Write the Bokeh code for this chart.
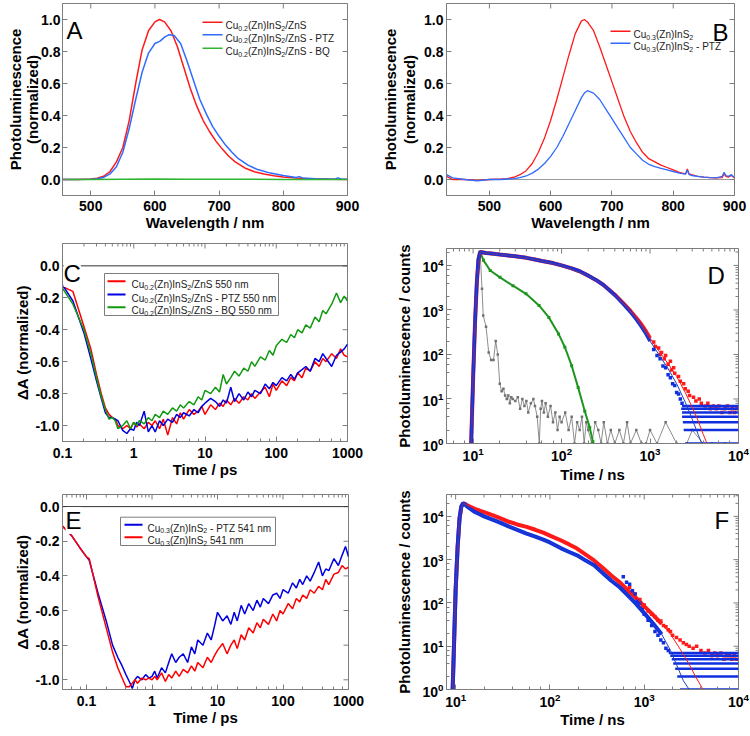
import math
import re
from bokeh.plotting import figure
from bokeh.layouts import column, row
from bokeh.models import (Range1d, Label, Span, FixedTicker, LogTicker,
                          CustomJSTickFormatter, PrintfTickFormatter)
from bokeh.embed import file_html
from bokeh.resources import INLINE

# ---------------- data ----------------
# Panel A : steady-state PL, Cu0.2(Zn)InS2/ZnS
A_wl_red = [450,480,500,510,520,530,540,550,560,570,580,590,600,607,615,625,635,645,655,665,675,685,695,705,715,725,740,755,770,785,800,820,840,860,880,900]
A_red = [0,0,0.003,0.008,0.02,0.05,0.11,0.2,0.37,0.6,0.81,0.93,0.985,1.0,0.985,0.93,0.83,0.7,0.57,0.46,0.37,0.3,0.24,0.19,0.145,0.11,0.072,0.048,0.034,0.024,0.016,0.009,0.005,0.003,0.001,0]
A_wl_blue = [450,500,510,520,530,540,550,560,570,580,590,600,608,615,622,630,640,650,660,670,680,690,700,710,720,730,745,760,780,800,820,825,830,850,880,885,890,900]
A_blue = [0,0.002,0.005,0.013,0.035,0.08,0.17,0.32,0.5,0.67,0.79,0.85,0.865,0.89,0.905,0.9,0.85,0.74,0.62,0.5,0.41,0.33,0.27,0.215,0.17,0.13,0.09,0.062,0.04,0.025,0.012,0.018,0.01,0.005,0.002,0.01,0.003,0.002]
A_wl_green = [450,500,550,600,650,700,750,800,850,900]
A_green = [0,0,0.002,0.003,0.002,0.002,0.001,0,0,0]

# Panel B : steady-state PL, Cu0.3(Zn)InS2
B_wl = [430,440,460,480,500,520,530,540,550,560,570,580,590,600,610,620,630,640,650,655,660,670,680,690,700,710,720,730,740,750,760,770,780,790,800,810,820,823,826,830,840,850,860,870,880,883,886,890,895,900]
B_red = [0.02,0.0,0.0,-0.005,0.0,0.003,0.006,0.014,0.03,0.055,0.1,0.17,0.26,0.37,0.5,0.64,0.78,0.91,0.99,1.0,0.985,0.93,0.83,0.72,0.61,0.5,0.39,0.3,0.23,0.17,0.13,0.11,0.09,0.075,0.06,0.045,0.035,0.065,0.035,0.03,0.02,0.015,0.012,0.01,0.012,0.035,0.02,0.015,0.025,0.01]
B_blue = [0.03,0.01,0.0,-0.008,0.0,0.0,0.003,0.006,0.012,0.022,0.04,0.065,0.1,0.145,0.2,0.27,0.35,0.43,0.51,0.54,0.555,0.54,0.5,0.44,0.38,0.32,0.26,0.2,0.16,0.12,0.095,0.08,0.07,0.06,0.05,0.04,0.033,0.06,0.03,0.025,0.02,0.015,0.012,0.01,0.02,0.045,0.025,0.02,0.03,0.01]

# Panel C : transient absorption at 550 nm (ps)
C_t = [0.1,0.14,0.2,0.25,0.3,0.35,0.4,0.45,0.5,0.55,0.6,0.7,0.8,0.9,1.0,1.1,1.2,1.4,1.6,1.8,2.0,2.3,2.6,3.0,3.5,4,4.5,5,6,7,8,9,10,12,14,16,18,20,23,26,30,35,40,45,50,60,70,80,90,100,120,140,160,180,200,230,260,300,350,400,450,500,600,700,800,900,1000]
C_red = [-0.13,-0.16,-0.38,-0.52,-0.68,-0.8,-0.89,-0.93,-0.95,-0.96,-1.0,-1.02,-1.0,-1.02,-0.98,-1.01,-0.99,-1.02,-0.98,-1.0,-0.97,-1.02,-0.96,-1.06,-0.95,-0.99,-0.92,-0.96,-0.9,-0.93,-0.91,-0.88,-0.93,-0.87,-0.9,-0.86,-0.88,-0.84,-0.87,-0.83,-0.86,-0.82,-0.84,-0.8,-0.83,-0.79,-0.76,-0.82,-0.74,-0.78,-0.72,-0.75,-0.7,-0.72,-0.67,-0.7,-0.64,-0.66,-0.6,-0.63,-0.58,-0.6,-0.55,-0.58,-0.52,-0.56,-0.57]
C_blue = [-0.12,-0.22,-0.42,-0.58,-0.72,-0.83,-0.92,-0.95,-0.95,-0.96,-0.97,-1.03,-1.05,-1.02,-1.03,-0.98,-1.0,-0.91,-1.04,-1.0,-1.04,-0.97,-1.0,-0.96,-0.98,-0.93,-0.95,-0.92,-0.94,-0.9,-0.92,-0.88,-0.86,-0.83,-0.85,-0.88,-0.84,-0.86,-0.76,-0.85,-0.8,-0.84,-0.79,-0.82,-0.78,-0.8,-0.74,-0.77,-0.73,-0.75,-0.7,-0.72,-0.68,-0.71,-0.67,-0.65,-0.63,-0.66,-0.58,-0.6,-0.55,-0.58,-0.63,-0.56,-0.54,-0.52,-0.49]
C_green = [-0.14,-0.24,-0.4,-0.55,-0.7,-0.82,-0.9,-0.96,-0.95,-0.97,-1.02,-1.0,-0.97,-1.02,-0.98,-1.0,-0.97,-0.99,-0.95,-0.97,-0.93,-0.95,-0.91,-0.93,-0.89,-0.91,-0.87,-0.89,-0.85,-0.87,-0.82,-0.84,-0.78,-0.8,-0.76,-0.79,-0.68,-0.74,-0.7,-0.66,-0.69,-0.64,-0.66,-0.6,-0.63,-0.57,-0.59,-0.53,-0.56,-0.5,-0.46,-0.48,-0.43,-0.45,-0.4,-0.42,-0.37,-0.39,-0.32,-0.35,-0.28,-0.3,-0.24,-0.17,-0.23,-0.19,-0.22]

# Panel D : PL decays (ns), counts
D_t = [9.5,10,10.5,11,11.5,12,13,14,16,18,20,25,30,40,50,60,80,100,130,160,200,250,300,400,500,600,700,800,900,1000]
D_red = [1,30,500,4000,14000,20000,19500,19000,18500,18000,17600,16800,16000,14800,13600,12600,11300,10000,8600,7400,5900,4600,3600,2200,1400,950,660,470,330,230]
D_blue = [1,30,500,4000,14000,20000,19500,19000,18500,18000,17600,16800,16000,14800,13600,12600,11300,10000,8600,7400,5900,4600,3600,2150,1350,900,610,420,290,200]
D_red_tail_t = [1100,1150,1250,1300,1350,1450,1500,1600,1700,1750,1850,1900,2100,2200,2400,2500,2700,2800,3100,3300,3600,3800,4200,4500,4800,5200,5600,6000,6500,7000,7500,8000,8500,9000,9500]
D_red_tail = [190,150,140,100,110,80,95,60,70,45,50,38,32,25,22,17,15,12,11,9,10,8,7,8,6,7,6,7,5,6,7,5,6,5,6]
D_blue_tail_t = [1100,1200,1300,1400,1500,1600,1700,1800,1900,2000,2100,2200,2300]
D_blue_tail = [130,95,80,55,50,35,30,22,20,14,13,10,8]
D_levels = [1,2,3,4,5,6,7]
D_level_start = [2500,2400,2350,2300,2300,2250,2300]
D_green_t = [9.5,10,11,12,13.1,15.6,20.1,28.2,39.6,55.6,71.8,92.4,109,130,154,183,208,226]
D_green = [1,30,4000,20000,13000,7700,5400,3500,2300,1260,680,290,145,56,18,5.3,2.3,1.1]
D_irf_t = [9.5,10,11,12,12.6,13,14,15,16,17,18,19,20,21,22,23,24,25,26,27,28,30,32,34,36,38,40,42,45,48,50,53,56,58,60,63,66,70,75,80,85,90,95,100,110,120,130,140,150,160,170,180,190,200,220,240,260,280,300,330,360,400,450,500,550,600,700,800,900,1000,1200,1500,2000,2600,3000,4000,5000,7000]
D_irf = [1,40,3000,20000,3000,750,420,110,75,75,200,100,22,15,17,12,10,12,8,11,10,9,11,6,10,7,9,5,8,10,7,4,1,6,9,5,8,4,7,3,5,2,4,3,5,2,4,1,3,2,4,1,3,2,1,3,2,1,3,1,2,1,2,1,3,1,2,1,1,2,1,3,1,1,2,1,1,1]
D_fit_t = [9.5,10,11,12,13,20,30,50,100,200,300,500,700,1000,1300,1600,2000,2500,3000,3500,4000,4500]
D_red_fit = [1,30,4000,20000,19500,17600,16000,13600,10000,5900,3600,1400,660,230,110,62,32,14,6.5,3.2,1.6,0.9]
D_blue_fit = [1,30,4000,20000,19500,17600,16000,13600,10000,5900,3600,1350,610,200,90,48,22,8.5,3.5,1.6,0.8,0.5]

# Panel E : transient absorption at 541 nm (ps)
E_t = [0.04,0.06,0.08,0.1,0.11,0.15,0.2,0.25,0.3,0.35,0.4,0.45,0.5,0.55,0.6,0.7,0.8,0.9,1.0,1.1,1.2,1.4,1.6,1.8,2.0,2.3,2.6,3.0,3.5,4,4.5,5,6,7,8,9,10,12,14,16,18,20,23,26,30,35,40,45,50,60,70,80,90,100,120,140,160,180,200,230,260,300,350,400,450,500,600,700,800,900,1000]
E_blue = [-0.1,-0.17,-0.24,-0.29,-0.31,-0.5,-0.66,-0.8,-0.87,-0.92,-0.97,-1.01,-1.05,-1.0,-0.98,-1.0,-0.97,-0.99,-0.98,-0.95,-0.99,-0.93,-0.96,-0.9,-0.85,-0.9,-0.87,-0.85,-0.9,-0.81,-0.85,-0.77,-0.8,-0.73,-0.77,-0.69,-0.61,-0.66,-0.63,-0.68,-0.61,-0.66,-0.57,-0.62,-0.56,-0.6,-0.54,-0.58,-0.53,-0.56,-0.51,-0.5,-0.53,-0.48,-0.5,-0.44,-0.47,-0.42,-0.45,-0.4,-0.43,-0.38,-0.32,-0.4,-0.36,-0.37,-0.3,-0.34,-0.28,-0.23,-0.29]
E_red = [-0.1,-0.17,-0.24,-0.29,-0.3,-0.52,-0.7,-0.84,-0.93,-0.99,-1.04,-1.04,-1.02,-1.0,-1.02,-0.99,-1.0,-0.99,-1.0,-0.98,-1.0,-0.96,-1.01,-0.97,-0.99,-0.95,-0.98,-0.94,-0.96,-0.92,-0.95,-0.9,-0.93,-0.87,-0.9,-0.86,-0.83,-0.79,-0.85,-0.8,-0.77,-0.82,-0.74,-0.77,-0.7,-0.73,-0.67,-0.7,-0.65,-0.68,-0.62,-0.66,-0.6,-0.62,-0.56,-0.59,-0.53,-0.55,-0.51,-0.53,-0.48,-0.5,-0.46,-0.48,-0.42,-0.45,-0.39,-0.38,-0.34,-0.36,-0.35]

# Panel F : PL decays (ns), counts
F_t = [9.3,9.6,10,10.5,11,11.5,12,12.5,13,14,16,18,20,25,30,37.5,45,56.6,70,85,100,130,160,194,240,294,360,445,550,670,820,1017,1250,1530]
F_red = [1,10,200,2000,9000,17000,20000,19500,18500,17000,15000,13500,12500,10500,9000,7400,6500,5700,4900,4200,3600,2800,2250,1800,1300,960,660,435,300,196,130,81,52,33]
F_blue = [1,10,200,2000,9000,17000,20000,19000,17500,15500,12600,11200,10000,8300,7100,5700,4900,4000,3400,2900,2500,1850,1500,1260,950,740,500,330,230,150,95,56,33,19]
F_red_tail_t = [700,750,800,850,900,950,1000,1100,1200,1300,1400,1500,1600,1700,1800,1900,2000,2200,2400,2600,2800,3000,3300,3600,4000,4400,4800,5200,5600,6000,6500,7000,7500,8000,8500,9000,9500]
F_red_tail = [230,170,160,110,120,80,90,65,55,48,40,38,30,28,24,22,18,16,14,12,11,10,9,10,8,7,8,6,7,6,7,5,6,6,5,6,5]
F_blue_tail_t = [600,650,700,750,800,850,900,950,1000,1100,1200,1300,1400,1500,1600,1700,1800]
F_blue_tail = [400,300,270,190,160,110,100,70,55,40,30,22,18,14,12,9,8]
F_levels = [1,2,3,4,5,6,7]
F_level_start = [2400,2240,2130,2030,1960,1890,1820]
F_fit_t = [9.3,10,11,12,13,16,20,30,45,70,100,160,240,360,550,820,1017,1250,1530,1900,2300,2600,3000,3500,4200]
F_red_fit = [1,200,9000,20000,18500,15000,12500,9000,6500,4900,3600,2250,1300,660,300,130,81,52,33,19,10,6.5,3.8,2.0,1.0]
F_blue_fit = [1,200,9000,20000,17500,12600,10000,7100,4900,3400,2500,1500,950,500,230,95,56,33,19,8,3,1.6,1.0,0.6,0.3]

# legend labels ( _{..} marks a subscript )
A_labels = ["Cu_{0.2}(Zn)InS_{2}/ZnS", "Cu_{0.2}(Zn)InS_{2}/ZnS - PTZ", "Cu_{0.2}(Zn)InS_{2}/ZnS - BQ"]
B_labels = ["Cu_{0.3}(Zn)InS_{2}", "Cu_{0.3}(Zn)InS_{2} - PTZ"]
C_labels = ["Cu_{0.2}(Zn)InS_{2}/ZnS 550 nm", "Cu_{0.2}(Zn)InS_{2}/ZnS - PTZ 550 nm", "Cu_{0.2}(Zn)InS_{2}/ZnS - BQ 550 nm"]
E_labels = ["Cu_{0.3}(Zn)InS_{2} - PTZ 541 nm", "Cu_{0.3}(Zn)InS_{2} 541 nm"]

# ---------------- style ----------------
FONT = "Liberation Sans"
FRAME = "#7d7d7d"
RED = "#ff1a1a"
BLUE_A = "#2f6bff"
GREEN_A = "#2fb52f"
BLUE = "#1030e0"
GREEN = "#1e961e"
GRAYD = "#707070"

ADV = {" ": 278, "(": 333, ")": 333, "-": 333, ".": 278, "/": 278, "B": 667, "C": 722, "I": 278,
       "P": 667, "Q": 778, "S": 667, "T": 611, "Z": 611, "m": 833, "n": 556, "u": 556}


def text_w(s, size):
    return sum(ADV.get(c, 556) for c in s) * size / 1000.0


class Frame:
    def __init__(self, xr, yr, xlog, ylog, fw, fh):
        self.xr, self.yr, self.xlog, self.ylog, self.fw, self.fh = xr, yr, xlog, ylog, fw, fh

    def _map(self, frac, r, lg):
        lo, hi = r
        if lg:
            return 10 ** (math.log10(lo) + frac * (math.log10(hi) - math.log10(lo)))
        return lo + frac * (hi - lo)

    def x(self, px):
        return self._map(px / self.fw, self.xr, self.xlog)

    def y(self, py):
        return self._map(1 - py / self.fh, self.yr, self.ylog)


def style_axis(ax, label, standoff, label_standoff, line_height):
    ax.axis_line_color = FRAME
    ax.major_tick_line_color = FRAME
    ax.minor_tick_line_color = FRAME
    ax.major_tick_in = 5
    ax.major_tick_out = 0
    ax.minor_tick_in = 3
    ax.minor_tick_out = 0
    ax.major_label_text_font = FONT
    ax.major_label_text_font_style = "bold"
    ax.major_label_text_font_size = "14px"
    ax.major_label_text_color = "black"
    ax.major_label_standoff = standoff
    ax.axis_label = label
    ax.axis_label_text_font = FONT
    ax.axis_label_text_font_style = "bold"
    ax.axis_label_text_font_size = "15px"
    ax.axis_label_text_color = "black"
    ax.axis_label_standoff = label_standoff
    ax.axis_label_text_line_height = line_height


def log_ticks(lo, hi):
    major, minor = [], []
    e = math.floor(math.log10(lo))
    while 10 ** e <= hi * 1.0001:
        for m in range(1, 10):
            v = m * 10 ** e
            if lo * 0.9999 <= v <= hi * 1.0001:
                (major if m == 1 else minor).append(v)
        e += 1
    return major, minor


def mirror_ticks(p, fr, xmaj, xmin, ymaj, ymin):
    segs = []
    for v in xmaj:
        segs.append((v, fr.y(0), v, fr.y(5)))
    for v in xmin:
        segs.append((v, fr.y(0), v, fr.y(3)))
    for v in ymaj:
        segs.append((fr.x(fr.fw), v, fr.x(fr.fw - 5), v))
    for v in ymin:
        segs.append((fr.x(fr.fw), v, fr.x(fr.fw - 3), v))
    p.segment(x0=[s[0] for s in segs], y0=[s[1] for s in segs], x1=[s[2] for s in segs],
              y1=[s[3] for s in segs], line_color=FRAME, line_width=1)


def make_fig(fr, borders, xticker, yticker, xfmt, yfmt, xlab, ylab, xs, ys, mir, ylh=1.2):
    l, r, t, b = borders
    p = figure(frame_width=fr.fw, frame_height=fr.fh,
               x_range=Range1d(*fr.xr), y_range=Range1d(*fr.yr),
               x_axis_type=("log" if fr.xlog else "linear"), y_axis_type=("log" if fr.ylog else "linear"),
               output_backend="svg", toolbar_location=None,
               min_border_left=l, min_border_right=r, min_border_top=t, min_border_bottom=b)
    p.xgrid.visible = False
    p.ygrid.visible = False
    p.outline_line_color = FRAME
    p.background_fill_color = "white"
    p.border_fill_color = "white"
    for ax, tk, fm, lg, lab, so, lh in ((p.xaxis[0], xticker, xfmt, fr.xlog, xlab, xs, 1.2),
                                        (p.yaxis[0], yticker, yfmt, fr.ylog, ylab, ys, ylh)):
        ax.ticker = tk
        if fm is not None:
            ax.formatter = fm
        style_axis(ax, lab, so[0], so[1], lh)
        if not lg:
            ax.minor_tick_line_color = None
    mirror_ticks(p, fr, *mir)
    return p


def pieces(label):
    out = []
    for m in re.finditer(r"_\{([^}]*)\}|([^_]+)", label):
        if m.group(1) is not None:
            out.append((m.group(1), True))
        else:
            out.append((m.group(2), False))
    return out


def legend(p, fr, labels, colors, line_x, text_x, row_y, lw=1.5, fs=10.0, sfs=7.0, box=None):
    if box is not None:
        bx0, by0, bx1, by1 = box
        p.quad(left=[fr.x(bx0)], right=[fr.x(bx1)], top=[fr.y(by0)], bottom=[fr.y(by1)],
               fill_color="white", line_color=FRAME, line_width=1)
    for lab, col, ry in zip(labels, colors, row_y):
        p.segment(x0=[fr.x(line_x[0])], y0=[fr.y(ry)], x1=[fr.x(line_x[1])], y1=[fr.y(ry)],
                  line_color=col, line_width=lw)
        base = ry + 3.6
        cx = text_x
        for txt, sub in pieces(lab):
            size = sfs if sub else fs
            lead = len(txt) - len(txt.lstrip(" "))
            cx += text_w(" " * lead, size)
            txt = txt.lstrip(" ")
            by = base + (2.4 if sub else 0.0)
            p.add_layout(Label(x=fr.x(cx), y=fr.y(by), text=txt, text_font=FONT,
                               text_font_size=f"{size}px", text_color="#222222",
                               text_baseline="alphabetic", text_align="left"))
            cx += text_w(txt, size)


def letter(p, fr, px, py, txt, bg=False):
    p.add_layout(Label(x=fr.x(px), y=fr.y(py), text=txt, text_font=FONT, text_font_size="24px",
                       text_color="black", text_baseline="alphabetic", text_align="left",
                       background_fill_color=("white" if bg else None)))


log_fmt_ps = CustomJSTickFormatter(code="return tick < 1 ? tick.toFixed(1) : tick.toFixed(0);")
f1 = PrintfTickFormatter(format="%.1f")
pl_ticks = [0.0, 0.2, 0.4, 0.6, 0.8, 1.0]
ta_ticks = [-1.0, -0.8, -0.6, -0.4, -0.2, 0.0]
wl_ticks = [500, 600, 700, 800, 900]

LEFT = 62  # shared left border of the left column

# ---------------- A ----------------
frA = Frame((456, 900), (-0.1, 1.1), False, False, 285, 192)
pA = make_fig(frA, (LEFT, 28, 3, 45), FixedTicker(ticks=wl_ticks), FixedTicker(ticks=pl_ticks), None, f1,
              "Wavelength / nm", "Photoluminescence\n(normalized)", (5, 0), (2, -3),
              (wl_ticks, [], pl_ticks, []), ylh=1.0)
pA.add_layout(Span(location=0, dimension="width", line_color="#999999", line_width=1, level="underlay"))
pA.line(A_wl_red, A_red, line_color=RED, line_width=1.5)
pA.line(A_wl_blue, A_blue, line_color=BLUE_A, line_width=1.5)
pA.line(A_wl_green, A_green, line_color=GREEN_A, line_width=1.5)
legend(pA, frA, A_labels, [RED, BLUE_A, GREEN_A], (140, 160), 163, [18.7, 31.3, 44.7])
letter(pA, frA, 4, 27, "A")

# ---------------- B ----------------
frB = Frame((430, 900), (-0.1, 1.1), False, False, 288, 192)
pB = make_fig(frB, (71, 16, 3, 45), FixedTicker(ticks=wl_ticks), FixedTicker(ticks=pl_ticks), None, f1,
              "Wavelength / nm", "Photoluminescence\n(normalized)", (5, 0), (3, 3),
              (wl_ticks, [], pl_ticks, []), ylh=1.1)
pB.add_layout(Span(location=0, dimension="width", line_color="#999999", line_width=1, level="underlay"))
pB.line(B_wl, B_red, line_color=RED, line_width=1.3)
pB.line(B_wl, B_blue, line_color=BLUE_A, line_width=1.3)
legend(pB, frB, B_labels, [RED, BLUE_A], (164, 184), 187, [27.7, 39.7])
letter(pB, frB, 266, 29, "B")

# ---------------- C ----------------
frC = Frame((0.1, 1000), (-1.1, 0.14), True, False, 285, 198)
cx_maj, cx_min = log_ticks(0.1, 1000)
pC = make_fig(frC, (LEFT, 28, 3, 41), LogTicker(), FixedTicker(ticks=ta_ticks), log_fmt_ps, f1,
              "Time / ps", "ΔA (normalized)", (6, 0), (3, 1), (cx_maj, cx_min, ta_ticks, []))
pC.add_layout(Span(location=0, dimension="width", line_color="#333333", line_width=1))
pC.line(C_t, C_red, line_color="#ff0000", line_width=1.5)
pC.line(C_t, C_blue, line_color="#0000e0", line_width=1.5)
pC.line(C_t, C_green, line_color="#109a10", line_width=1.5)
legend(pC, frC, C_labels, ["#ff0000", "#0000e0", "#109a10"], (45, 63), 69, [37.7, 51, 63.7],
       lw=2, box=(42, 30, 216, 72))
letter(pC, frC, 1, 30, "C", bg=True)

# ---------------- D ----------------
frD = Frame((5, 10000), (1, 24000), True, True, 292, 195)
dx_maj, dx_min = log_ticks(5, 10000)
dy_maj, dy_min = log_ticks(1, 24000)
pD = make_fig(frD, (71, 12, 8, 45), LogTicker(), LogTicker(), None, None,
              "Time / ns", "Photoluminescence / counts", (3, 2), (3, 6),
              (dx_maj, dx_min, dy_maj, dy_min))
pD.line(D_irf_t, D_irf, line_color=GRAYD, line_width=0.8)
pD.scatter(D_irf_t, D_irf, marker="square", size=2.5, fill_color=GRAYD, line_color=None)
pD.line(D_green_t, D_green, line_color=GREEN, line_width=2)
pD.scatter(D_green_t, D_green, marker="square", size=3, fill_color=GREEN, line_color=None)
pD.line(D_t, D_red, line_color=RED, line_width=4)
pD.scatter(D_red_tail_t, D_red_tail, marker="square", size=3.5, fill_color=RED, line_color=None)
pD.line(D_t, D_blue, line_color=BLUE, line_width=3.5)
pD.scatter(D_blue_tail_t, D_blue_tail, marker="square", size=3.5, fill_color=BLUE, line_color=None)
pD.segment(D_level_start, D_levels, [10000] * len(D_levels), D_levels, line_color=BLUE, line_width=2.5)
pD.line(D_fit_t, D_red_fit, line_color=RED, line_width=1)
pD.line(D_fit_t, D_blue_fit, line_color="#2040c0", line_width=1)
letter(pD, frD, 261, 27, "D")

# ---------------- E ----------------
frE = Frame((0.043, 1000), (-1.056, 0.07), True, False, 286, 195)
ex_maj, ex_min = log_ticks(0.043, 1000)
pE = make_fig(frE, (LEFT, 27, 12, 47), LogTicker(), FixedTicker(ticks=ta_ticks), log_fmt_ps, f1,
              "Time / ps", "ΔA (normalized)", (6, 0), (3, 1), (ex_maj, ex_min, ta_ticks, []))
pE.add_layout(Span(location=0, dimension="width", line_color="#333333", line_width=1))
pE.line(E_t, E_blue, line_color="#0000e0", line_width=1.5)
pE.line(E_t, E_red, line_color="#ff0000", line_width=1.5)
legend(pE, frE, E_labels, ["#0000e0", "#ff0000"], (62, 80), 85, [30.3, 42.7],
       lw=2, box=(58, 22.7, 213, 51))
letter(pE, frE, 3, 26, "E", bg=True)

# ---------------- F ----------------
frF = Frame((8, 10000), (1, 32000), True, True, 292, 195)
fx_maj, fx_min = log_ticks(8, 10000)
fy_maj, fy_min = log_ticks(1, 32000)
pF = make_fig(frF, (71, 12, 6, 47), LogTicker(), LogTicker(), None, None,
              "Time / ns", "Photoluminescence / counts", (3, 1), (3, 6),
              (fx_maj, fx_min, fy_maj, fy_min))
pF.line(F_t, F_red, line_color=RED, line_width=4)
pF.scatter(F_red_tail_t, F_red_tail, marker="square", size=3.5, fill_color=RED, line_color=None)
pF.line(F_t, F_blue, line_color=BLUE, line_width=4)
pF.scatter(F_blue_tail_t, F_blue_tail, marker="square", size=3.5, fill_color=BLUE, line_color=None)
pF.segment(F_level_start, F_levels, [10000] * len(F_levels), F_levels, line_color=BLUE, line_width=2.5)
pF.line(F_fit_t, F_red_fit, line_color=RED, line_width=1)
pF.line(F_fit_t, F_blue_fit, line_color="#2040c0", line_width=1)
letter(pF, frF, 268, 26, "F")

layout = row(column(pA, pC, pE), column(pB, pD, pF))
open("out.html", "w").write(file_html(layout, INLINE))
